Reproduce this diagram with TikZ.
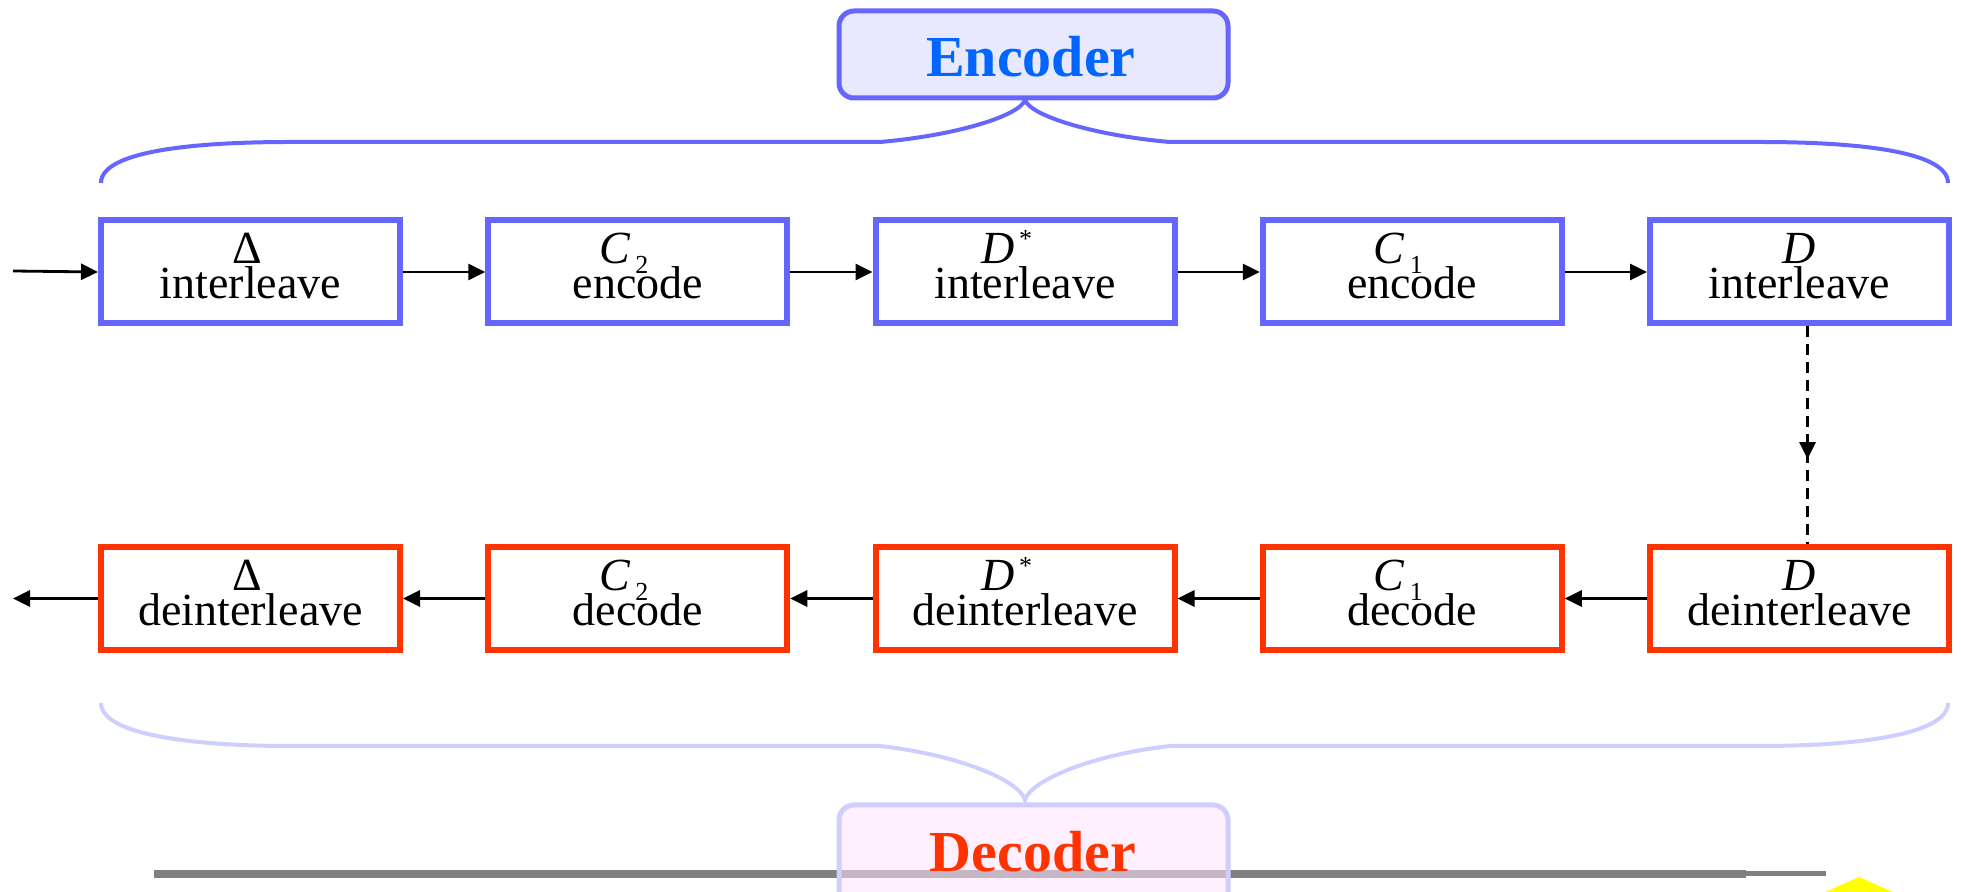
\documentclass[tikz,border=0pt]{standalone}
\usepackage{fontspec}
\setmainfont{Liberation Serif}
\usetikzlibrary{arrows.meta,decorations.markings}

\definecolor{encblue}{RGB}{102,102,255}
\definecolor{decred}{RGB}{255,51,0}
\definecolor{enctext}{RGB}{0,102,255}
\definecolor{encfill}{RGB}{232,232,255}
\definecolor{decfill}{RGB}{255,226,255}
\definecolor{decline}{RGB}{206,206,255}
\definecolor{railgray}{RGB}{128,128,128}
\definecolor{signyellow}{RGB}{255,255,0}

% first-line symbols of the stages
\newcommand\symC[1]{\textit{C}\kern2.5pt\raisebox{-5pt}{\fontsize{13}{13}\selectfont #1}}
\newcommand\symDstar{\textit{D}\kern2pt\raisebox{8pt}{\fontsize{13}{13}\selectfont *}}

% one processing stage: name, x, y, style, x-offset of symbol, symbol, operation
\newcommand\stagenode[7]{%
  \node[#4] (#1) at (#2,#3) {};
  \node[steptext,xshift=#5] (#1-sym) at ([yshift=4pt]#1.center) {#6};
  \node[steptext] (#1-op) at ([yshift=-13.5pt]#1.center) {#7};
}

\begin{document}
\begin{tikzpicture}[x=0.5pt,y=-0.5pt,
  stagebox/.style={draw,line width=3pt,minimum width=149.5pt,minimum height=51.5pt,
    inner sep=0pt,fill=white},
  encstage/.style={stagebox,draw=encblue},
  decstage/.style={stagebox,draw=decred},
  steptext/.style={anchor=base,inner sep=0pt,font=\fontsize{23}{23}\selectfont},
  flow/.style={-{Triangle[length=8.5pt,width=8pt]},line width=1.4pt,black},
  bracecurve/.style={line width=2pt},
  titlebox/.style={line width=2.5pt,rounded corners=7.5pt,minimum width=194.5pt,inner sep=0pt},
  titletext/.style={anchor=base,inner sep=0pt,font=\fontsize{29}{29}\selectfont\bfseries},
]
\useasboundingbox (0,0) rectangle (1961,892);

% ---- encoder chain ----
\stagenode{e1}{250.5}{272}{encstage}{-1.5pt}{Δ}{interleave}
\stagenode{e2}{637.75}{272}{encstage}{-7pt}{\symC{2}}{encode}
\stagenode{e3}{1025}{272}{encstage}{-9pt}{\symDstar}{interleave}
\stagenode{e4}{1412.25}{272}{encstage}{-7pt}{\symC{1}}{encode}
\stagenode{e5}{1799.5}{272}{encstage}{0pt}{\textit{D}}{interleave}

% ---- decoder chain ----
\stagenode{d1}{250.5}{598.5}{decstage}{-1.5pt}{Δ}{deinterleave}
\stagenode{d2}{637.75}{598.5}{decstage}{-7pt}{\symC{2}}{decode}
\stagenode{d3}{1025}{598.5}{decstage}{-9pt}{\symDstar}{deinterleave}
\stagenode{d4}{1412.25}{598.5}{decstage}{-7pt}{\symC{1}}{decode}
\stagenode{d5}{1799.5}{598.5}{decstage}{0pt}{\textit{D}}{deinterleave}

% ---- data flow ----
\coordinate (src) at (13,271);
\coordinate (sink) at (13,598.5);
\draw[flow] (src) -- (e1.west);
\draw[flow] (e1.east) -- (e2.west);
\draw[flow] (e2.east) -- (e3.west);
\draw[flow] (e3.east) -- (e4.west);
\draw[flow] (e4.east) -- (e5.west);
\draw[flow] (d5.west) -- (d4.east);
\draw[flow] (d4.west) -- (d3.east);
\draw[flow] (d3.west) -- (d2.east);
\draw[flow] (d2.west) -- (d1.east);
\draw[flow] (d1.west) -- (sink);

% channel between the two chains
\draw[line width=1.4pt,dash pattern=on 5.5pt off 3.5pt,
  postaction={decorate},
  decoration={markings,mark=at position 0.61 with {\arrow{Triangle[length=8.5pt,width=8pt]}}}]
  ([xshift=4pt]e5.south) -- ([xshift=4pt]d5.north);

% ---- bottom rail and marker ----
\draw[railgray,line width=4pt] (154,874) -- (1746,874);
\draw[railgray,line width=2.6pt] (1746,873.5) -- (1826,873.5);
\fill[signyellow] (1823,893) -- (1859,877) -- (1895,893) -- cycle;

% ---- titles ----
\node[titlebox,draw=encblue,fill=encfill,minimum height=43.5pt] (enc) at (1033.5,54.5) {};
\node[titletext,text=enctext] (enc-t) at (1031,77) {Encoder};
\node[titlebox,draw=decline,fill=decfill,fill opacity=0.55,draw opacity=1,minimum height=67.5pt] (dec) at (1033.5,872.5) {};
\node[titletext,text=decred] (dec-t) at (1033,871) {Decoder};

% ---- braces ----
\coordinate (etip) at (1025,100);
\coordinate (dtip) at (1025,800);
\draw[bracecurve,encblue]
  (101,183) .. controls (101,150) and (200,142) .. (290,142) -- (880,142)
  .. controls (960,135) and (1020,115) .. (etip)
  .. controls (1030,115) and (1090,135) .. (1170,142) -- (1760,142)
  .. controls (1850,142) and (1948,150) .. (1948,183);
\draw[bracecurve,decline]
  (101,703) .. controls (101,736) and (200,746) .. (290,746) -- (880,746)
  .. controls (960,755) and (1020,781) .. (dtip)
  .. controls (1030,781) and (1090,755) .. (1170,746) -- (1760,746)
  .. controls (1850,746) and (1948,736) .. (1948,703);
\end{tikzpicture}
\end{document}
